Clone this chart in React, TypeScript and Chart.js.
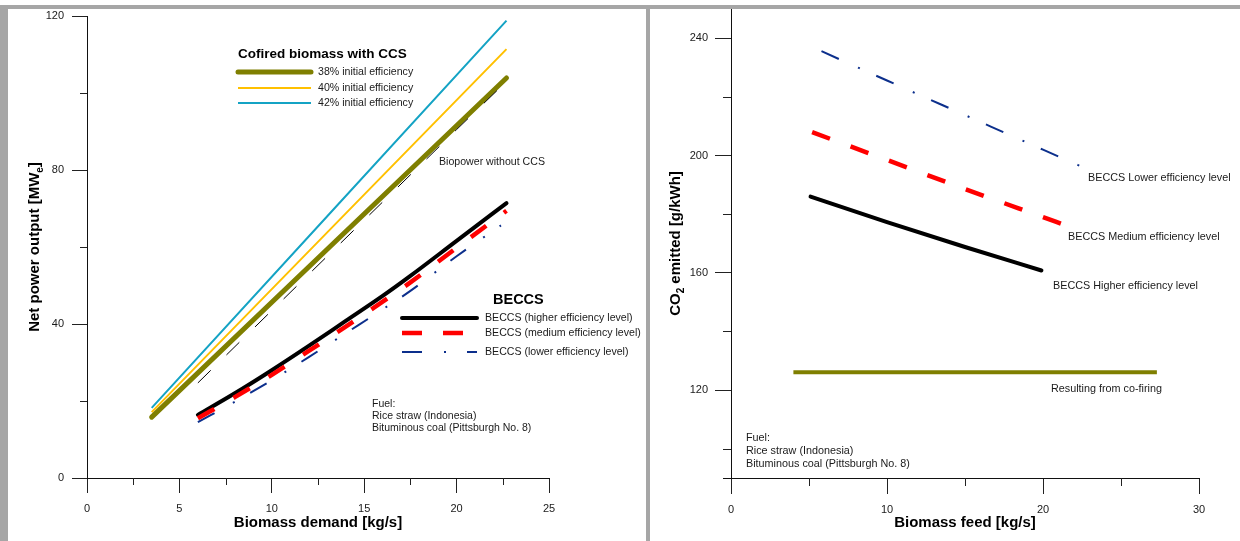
import React, { useEffect, useRef } from 'react';
import { Chart, registerables } from 'chart.js';

Chart.register(...registerables);

const FONT = '"Liberation Sans", Arial, Helvetica, sans-serif';

// ---------------- Left panel: net power output vs biomass demand ----------------
const demandTicks = [0, 5, 10, 15, 20, 25];
const demandMinorTicks = [2.5, 7.5, 12.5, 17.5, 22.5];
const powerTicks = [0, 40, 80, 120];
const powerMinorTicks = [20, 60, 100];

const cofireDemand = [3.5, 13, 22.7];
const cofire38 = [15.8, 59.4, 103.9];
const cofire40 = [17.1, 63.8, 111.4];
const cofire42 = [18.2, 68.0, 118.8];

const biopowerDemand = [6, 10, 15, 20, 22.7];
const biopowerNoCcs = [24.7, 43.5, 67.0, 90.5, 103.0];

const beccsDemand = [6, 8, 10, 12, 14, 16, 17.5, 20, 22.7];
const beccsHigher = [16.4, 22.0, 28.0, 34.3, 40.8, 47.3, 52.5, 61.6, 71.4];
const beccsMedium = [15.5, 21.0, 26.8, 33.0, 39.3, 45.8, 50.8, 59.8, 69.4];
const beccsLowerDemand = [6, 8, 10, 12, 14, 16, 17.5, 20, 22.4];
const beccsLower = [14.5, 19.8, 25.4, 31.4, 37.6, 43.8, 48.6, 57.6, 65.6];

const cofireLegendTitle = 'Cofired biomass with CCS';
const cofireLabels = ['38% initial efficiency', '40% initial efficiency', '42% initial efficiency'];
const beccsLegendTitle = 'BECCS';
const beccsLabels = [
  'BECCS (higher efficiency level)',
  'BECCS (medium efficiency level)',
  'BECCS (lower efficiency level)',
];
const biopowerLabel = 'Biopower without CCS';
const fuelLines = ['Fuel:', 'Rice straw (Indonesia)', 'Bituminous coal (Pittsburgh No. 8)'];

// ---------------- Right panel: CO2 emitted vs biomass feed ----------------
const feedTicks = [0, 10, 20, 30];
const feedMinorTicks = [5, 15, 25];
const co2Ticks = [120, 160, 200, 240];
const co2MinorTicks = [100, 140, 180, 220];

const feedLower = [5.8, 10, 15, 20, 22.4];
const co2Lower = [235.6, 225.6, 213.8, 202.0, 196.4];
const feedMedium = [5.2, 10, 15, 20, 21.2];
const co2Medium = [208.0, 198.5, 188.6, 179.0, 176.7];
const feedHigher = [5.1, 10, 15, 19.9];
const co2Higher = [186.0, 177.3, 168.8, 160.8];
const feedCofire = [4.0, 15, 27.3];
const co2Cofire = [126.1, 126.1, 126.1];

const rightLabels = [
  'BECCS Lower efficiency level',
  'BECCS Medium efficiency level',
  'BECCS Higher efficiency level',
  'Resulting from co-firing',
];

// ---------------- styles ----------------
const OLIVE = '#7f7f00';
const YELLOW = '#ffc000';
const CYAN = '#14a3c4';
const NAVY = '#0c2f8c';
const RED = '#ff0000';
const BLACK = '#000000';
const TEXT = '#1a1a1a';
const TITLE_SIZE = 15;

const DASH_RED = [19, 22];
const DASH_NAVY = [19, 21, 2, 18];
const DASH_BIO = [18, 22];

const toXY = (xs: number[], ys: number[]) => xs.map((x, i) => ({ x, y: ys[i] }));

type Seg = { t: string; sub?: boolean };

function drawRichText(ctx: CanvasRenderingContext2D, segs: Seg[], x: number, y: number, size: number, rotate: boolean) {
  ctx.save();
  ctx.translate(x, y);
  if (rotate) ctx.rotate(-Math.PI / 2);
  const fMain = `bold ${size}px ${FONT}`;
  const fSub = `bold ${Math.round(size * 0.65)}px ${FONT}`;
  let total = 0;
  segs.forEach((s) => {
    ctx.font = s.sub ? fSub : fMain;
    total += ctx.measureText(s.t).width;
  });
  let cx = -total / 2;
  ctx.textAlign = 'left';
  ctx.textBaseline = 'middle';
  ctx.fillStyle = '#000';
  segs.forEach((s) => {
    ctx.font = s.sub ? fSub : fMain;
    ctx.fillText(s.t, cx, s.sub ? size * 0.38 : 0);
    cx += ctx.measureText(s.t).width;
  });
  ctx.restore();
}

function drawText(ctx: CanvasRenderingContext2D, text: string, x: number, y: number, font: string, color = TEXT) {
  ctx.save();
  ctx.font = font;
  ctx.fillStyle = color;
  ctx.textAlign = 'left';
  ctx.textBaseline = 'middle';
  ctx.fillText(text, x, y);
  ctx.restore();
}

function drawLegendLine(
  ctx: CanvasRenderingContext2D,
  x1: number,
  x2: number,
  y: number,
  color: string,
  width: number,
  dash: number[],
  cap: CanvasLineCap
) {
  ctx.save();
  ctx.beginPath();
  ctx.strokeStyle = color;
  ctx.lineWidth = width;
  ctx.setLineDash(dash);
  ctx.lineCap = cap;
  ctx.moveTo(x1, y);
  ctx.lineTo(x2, y);
  ctx.stroke();
  ctx.restore();
}

function drawMinorTicks(chart: any, xMinor: number[], yMinor: number[], len: number) {
  const { ctx, chartArea, scales } = chart;
  ctx.save();
  ctx.strokeStyle = '#222';
  ctx.lineWidth = 1;
  xMinor.forEach((v) => {
    const px = Math.round(scales.x.getPixelForValue(v)) + 0.5;
    ctx.beginPath();
    ctx.moveTo(px, chartArea.bottom);
    ctx.lineTo(px, chartArea.bottom + len);
    ctx.stroke();
  });
  yMinor.forEach((v) => {
    const py = Math.round(scales.y.getPixelForValue(v)) + 0.5;
    ctx.beginPath();
    ctx.moveTo(chartArea.left - len, py);
    ctx.lineTo(chartArea.left, py);
    ctx.stroke();
  });
  ctx.restore();
}

function makeAxis(min: number, max: number, ticks: number[], fit: (s: any) => void, tickLength: number, padding: number) {
  return {
    type: 'linear',
    min,
    max,
    afterBuildTicks: (s: any) => {
      s.ticks = ticks.map((v) => ({ value: v }));
    },
    afterFit: (s: any) => {
      fit(s);
      s.paddingTop = 0;
      s.paddingBottom = 0;
      s.paddingLeft = 0;
      s.paddingRight = 0;
    },
    ticks: {
      color: TEXT,
      font: { family: FONT, size: 11 },
      padding,
      maxRotation: 0,
      autoSkip: false,
    },
    grid: { display: true, drawOnChartArea: false, drawTicks: true, tickLength, color: '#222', lineWidth: 1 },
    border: { display: true, color: '#111', width: 1 },
  };
}

const line = (data: any[], color: string, width: number, dash: number[] = [], cap: CanvasLineCap = 'butt', smooth = false) => ({
  data,
  showLine: true,
  borderColor: color,
  backgroundColor: color,
  borderWidth: width,
  borderDash: dash,
  borderCapStyle: cap,
  pointRadius: 0,
  pointHoverRadius: 0,
  fill: false,
  cubicInterpolationMode: smooth ? 'monotone' : 'default',
  tension: 0,
});

const leftPlugin = {
  id: 'leftAnnotations',
  afterDraw(chart: any) {
    const { ctx, chartArea } = chart;
    drawMinorTicks(chart, demandMinorTicks, powerMinorTicks, 7);
    drawRichText(ctx, [{ t: 'Biomass demand [kg/s]' }], (chartArea.left + chartArea.right) / 2, 523, TITLE_SIZE, false);
    drawRichText(
      ctx,
      [{ t: 'Net power output [MW' }, { t: 'e', sub: true }, { t: ']' }],
      35,
      (chartArea.top + chartArea.bottom) / 2,
      TITLE_SIZE,
      true
    );
    // cofired legend
    drawText(ctx, cofireLegendTitle, 238, 54, `bold 13.5px ${FONT}`, '#000');
    const cofStyles = [
      { c: OLIVE, w: 5, y: 72, cap: 'round' as CanvasLineCap },
      { c: YELLOW, w: 2, y: 88, cap: 'butt' as CanvasLineCap },
      { c: CYAN, w: 2, y: 103, cap: 'butt' as CanvasLineCap },
    ];
    cofStyles.forEach((s, i) => {
      drawLegendLine(ctx, 238, 311, s.y, s.c, s.w, [], s.cap);
      drawText(ctx, cofireLabels[i], 318, s.y, `10.6px ${FONT}`);
    });
    drawText(ctx, biopowerLabel, 439, 162, `10.6px ${FONT}`);
    // BECCS legend
    drawText(ctx, beccsLegendTitle, 493, 300, `bold 14.5px ${FONT}`, '#000');
    const bStyles = [
      { c: BLACK, w: 4, y: 318, d: [] as number[], cap: 'round' as CanvasLineCap },
      { c: RED, w: 4.5, y: 333, d: [20, 21], cap: 'butt' as CanvasLineCap },
      { c: NAVY, w: 2, y: 352, d: [20, 22, 2, 21], cap: 'butt' as CanvasLineCap },
    ];
    bStyles.forEach((s, i) => {
      drawLegendLine(ctx, 402, 477, s.y, s.c, s.w, s.d, s.cap);
      drawText(ctx, beccsLabels[i], 485, s.y, `10.6px ${FONT}`);
    });
    fuelLines.forEach((t, i) => drawText(ctx, t, 372, 404 + i * 12.3, `10.5px ${FONT}`));
  },
};

const rightPlugin = {
  id: 'rightAnnotations',
  afterDraw(chart: any) {
    const { ctx, chartArea } = chart;
    drawMinorTicks(chart, feedMinorTicks, co2MinorTicks, 8);
    // x axis extension to the left of the y axis
    ctx.save();
    ctx.strokeStyle = '#111';
    ctx.lineWidth = 1;
    ctx.beginPath();
    ctx.moveTo(chartArea.left - 8, Math.round(chartArea.bottom) + 0.5);
    ctx.lineTo(chartArea.left, Math.round(chartArea.bottom) + 0.5);
    ctx.stroke();
    ctx.restore();
    drawRichText(ctx, [{ t: 'Biomass feed [kg/s]' }], (chartArea.left + chartArea.right) / 2, 523, TITLE_SIZE, false);
    drawRichText(
      ctx,
      [{ t: 'CO' }, { t: '2', sub: true }, { t: ' emitted [g/kWh]' }],
      26,
      (chartArea.top + chartArea.bottom) / 2,
      TITLE_SIZE,
      true
    );
    const pos = [
      [438, 178],
      [418, 237],
      [403, 286],
      [401, 389],
    ];
    rightLabels.forEach((t, i) => drawText(ctx, t, pos[i][0], pos[i][1], `10.8px ${FONT}`));
    fuelLines.forEach((t, i) => drawText(ctx, t, 96, 438 + i * 13, `10.8px ${FONT}`));
  },
};

function LeftChart() {
  const ref = useRef<HTMLCanvasElement>(null);
  useEffect(() => {
    const chart = new Chart(ref.current as HTMLCanvasElement, {
      type: 'scatter',
      data: {
        datasets: [
          line(toXY(beccsDemand, beccsMedium), RED, 4.5, DASH_RED, 'butt', true),
          line(toXY(beccsLowerDemand, beccsLower), NAVY, 2, DASH_NAVY, 'butt', true),
          line(toXY(beccsDemand, beccsHigher), BLACK, 4, [], 'round', true),
          line(toXY(biopowerDemand, biopowerNoCcs), BLACK, 1, DASH_BIO, 'butt'),
          line(toXY(cofireDemand, cofire38), OLIVE, 5, [], 'round'),
          line(toXY(cofireDemand, cofire40), YELLOW, 2),
          line(toXY(cofireDemand, cofire42), CYAN, 2),
        ] as any,
      },
      options: {
        responsive: false,
        animation: false,
        events: [],
        layout: { padding: { left: 0, top: 16, right: 97, bottom: 0 } },
        plugins: { legend: { display: false }, tooltip: { enabled: false } },
        scales: {
          x: makeAxis(0, 25, demandTicks, (s: any) => { s.height = 63; }, 15, 9),
          y: makeAxis(0, 120, powerTicks, (s: any) => { s.width = 87; }, 15, 8),
        } as any,
      },
      plugins: [leftPlugin],
    });
    return () => chart.destroy();
  }, []);
  return <canvas ref={ref} width={646} height={541} style={{ position: 'absolute', left: 0, top: 0, width: 646, height: 541 }} />;
}

function RightChart() {
  const ref = useRef<HTMLCanvasElement>(null);
  useEffect(() => {
    const chart = new Chart(ref.current as HTMLCanvasElement, {
      type: 'scatter',
      data: {
        datasets: [
          line(toXY(feedMedium, co2Medium), RED, 4.5, DASH_RED, 'butt', true),
          line(toXY(feedLower, co2Lower), NAVY, 2, DASH_NAVY, 'butt', true),
          line(toXY(feedHigher, co2Higher), BLACK, 4, [], 'round', true),
          line(toXY(feedCofire, co2Cofire), OLIVE, 4, [], 'butt'),
        ] as any,
      },
      options: {
        responsive: false,
        animation: false,
        events: [],
        layout: { padding: { left: 0, top: 9, right: 41, bottom: 0 } },
        plugins: { legend: { display: false }, tooltip: { enabled: false } },
        scales: {
          x: makeAxis(0, 30, feedTicks, (s: any) => { s.height = 63; }, 16, 9),
          y: makeAxis(90, 250, co2Ticks, (s: any) => { s.width = 81; }, 16, 7),
        } as any,
      },
      plugins: [rightPlugin],
    });
    return () => chart.destroy();
  }, []);
  return <canvas ref={ref} width={590} height={541} style={{ position: 'absolute', left: 650, top: 0, width: 590, height: 541 }} />;
}

export default function App() {
  const gray = '#a6a6a6';
  return (
    <div style={{ position: 'absolute', left: 0, top: 0, width: 1240, height: 541, background: '#fff', overflow: 'hidden' }}>
      <LeftChart />
      <RightChart />
      <div style={{ position: 'absolute', left: 0, top: 5, width: 1240, height: 4, background: gray }} />
      <div style={{ position: 'absolute', left: 0, top: 5, width: 8, height: 536, background: gray }} />
      <div style={{ position: 'absolute', left: 646, top: 5, width: 4, height: 536, background: gray }} />
    </div>
  );
}
